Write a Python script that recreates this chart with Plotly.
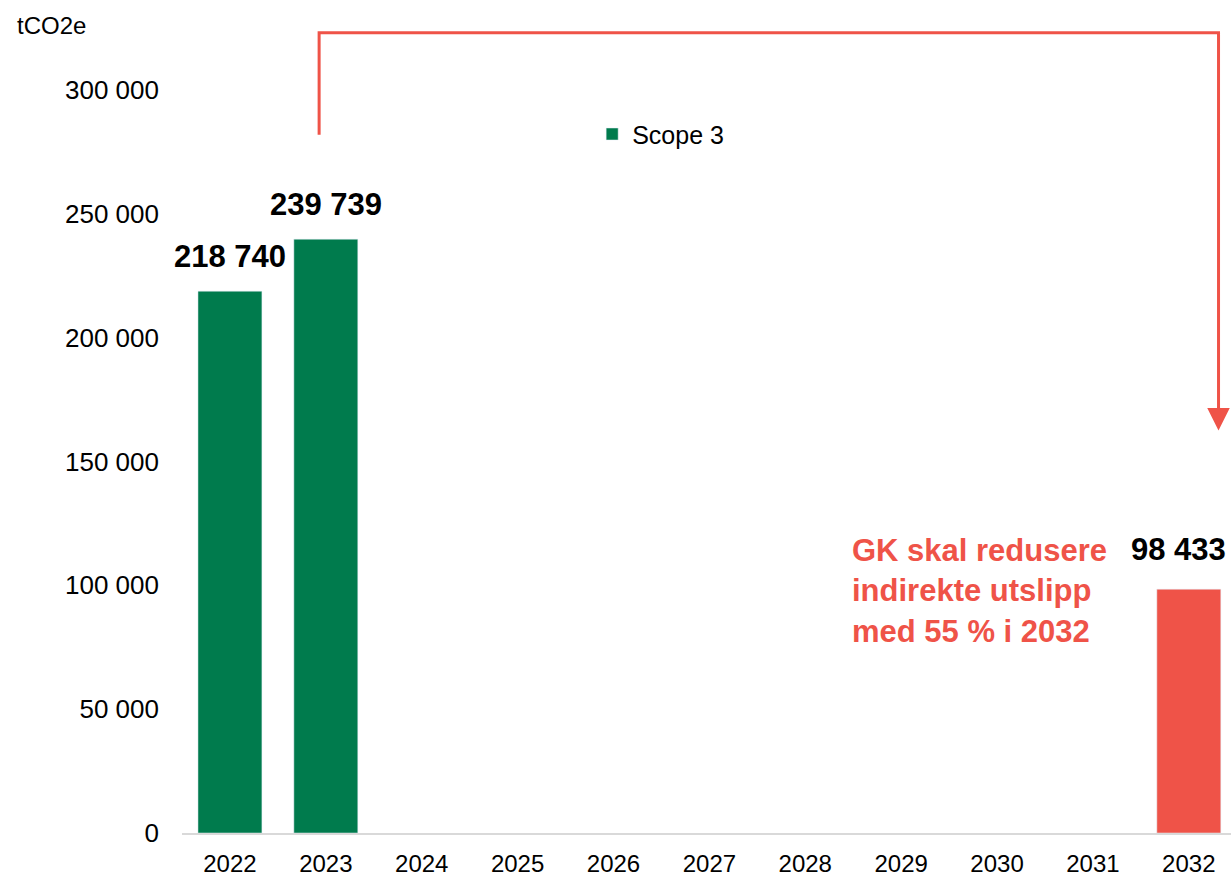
import plotly.graph_objects as go

years = ["2022", "2023", "2024", "2025", "2026", "2027", "2028", "2029", "2030", "2031", "2032"]
scope3 = [218740, 239739, None, None, None, None, None, None, None, None, None]
target = [None, None, None, None, None, None, None, None, None, None, 98433]
y_ticks = [0, 50000, 100000, 150000, 200000, 250000, 300000]

GREEN = "#007B4D"
RED = "#EF5348"
FONT = "Liberation Sans, Arial, sans-serif"

def fmt(v):
    return f"{v:,}".replace(",", " ")

fig = go.Figure()
fig.add_trace(go.Bar(x=years, y=scope3, name="Scope 3", marker_color=GREEN,
                     width=0.667, showlegend=True))
fig.add_trace(go.Bar(x=years, y=target, name="Mål 2032", marker_color=RED,
                     width=0.667, showlegend=False))

annotations = []
for i, v in enumerate(scope3):
    if v is not None:
        annotations.append(dict(x=i, y=v, xref="x", yref="y", text=f"<b>{fmt(v)}</b>",
                                showarrow=False, yanchor="bottom", yshift=15,
                                font=dict(size=31, color="black", family=FONT)))
for i, v in enumerate(target):
    if v is not None:
        annotations.append(dict(x=i, y=v, xref="x", yref="y", text=f"<b>{fmt(v)}</b>",
                                showarrow=False, yanchor="bottom", yshift=20, xshift=-10,
                                font=dict(size=31, color="black", family=FONT)))

annotations.append(dict(xref="paper", yref="paper", x=-0.1592, y=1.003,
                        xanchor="left", yanchor="middle", text="tCO2e", showarrow=False,
                        font=dict(size=24, color="black", family=FONT)))
annotations.append(dict(x=6.47, y=122000, xref="x", yref="y", xanchor="left", yanchor="top",
                        align="left",
                        text="<b>GK skal redusere<br>indirekte utslipp<br>med 55 % i 2032</b>",
                        showarrow=False,
                        font=dict(size=31, color=RED, family=FONT)))
# arrow head at end of connector
annotations.append(dict(x=10.31, y=162500, xref="x", yref="y", ax=0, ay=-25,
                        text="", showarrow=True,
                        arrowhead=2, arrowsize=1.5, arrowwidth=3, arrowcolor=RED))

shapes = [dict(type="path", xref="x", yref="y",
               path="M 0.93,281900 L 0.93,323100 L 10.31,323100 L 10.31,170000",
               line=dict(color=RED, width=3))]

fig.update_layout(
    width=1231, height=878,
    margin=dict(l=182, r=0, t=28, b=45),
    plot_bgcolor="white", paper_bgcolor="white",
    barmode="overlay",
    separators=", ",
    font=dict(family=FONT, size=26, color="black"),
    showlegend=True,
    legend=dict(x=0.391, y=0.868, xanchor="left", yanchor="middle",
                font=dict(size=25, family=FONT), itemwidth=30,
                bgcolor="rgba(0,0,0,0)"),
    annotations=annotations,
    shapes=shapes,
    xaxis=dict(type="category", range=[-0.5, 10.44], showgrid=False, automargin=False,
               showline=True, linecolor="#D9D9D9", linewidth=2,
               ticks="", tickfont=dict(size=24), ticklabelstandoff=8),
    yaxis=dict(range=[0, 325000], showgrid=False, showline=False, zeroline=False,
               automargin=False,
               tickvals=y_ticks, tickformat=",", ticks="",
               tickfont=dict(size=26), ticklabelstandoff=22),
)

fig.write_html("out.html", config={"displayModeBar": False},
               post_script="document.body.style.margin='0';document.body.style.overflow='hidden';")
